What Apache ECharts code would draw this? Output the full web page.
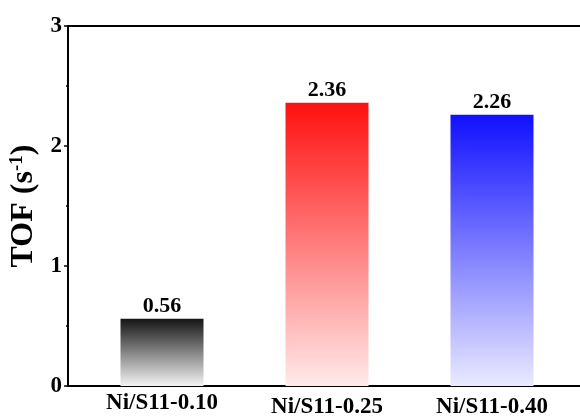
<!DOCTYPE html>
<html>
<head>
<meta charset="utf-8">
<script src="https://cdn.jsdelivr.net/npm/echarts@6/dist/echarts.min.js"></script>
<style>html,body{margin:0;padding:0;background:#fff;}#c{width:580px;height:419px;}</style>
</head>
<body>
<div id="c"></div>
<script>
var categories = ['Ni/S11-0.10', 'Ni/S11-0.25', 'Ni/S11-0.40'];
var tofValues = [0.56, 2.36, 2.26];
var topColors = ['#151515', '#ff1010', '#1010ff'];
var bottomColors = ['#f4f4f4', '#ffeaea', '#eaeaff'];
var yTicks = [0, 1, 2, 3];

var FONT = '"Liberation Serif", "Times New Roman", serif';
var chart = echarts.init(document.getElementById('c'));

var barData = tofValues.map(function (v, i) {
  return {
    value: v,
    itemStyle: {
      color: new echarts.graphic.LinearGradient(0, 0, 0, 1, [
        { offset: 0, color: topColors[i] },
        { offset: 1, color: bottomColors[i] }
      ])
    }
  };
});

chart.setOption({
  backgroundColor: '#fff',
  animation: false,
  grid: [
    { left: 79.5, right: 5.5, top: 26, bottom: 33, outerBoundsMode: 'none', containLabel: false },
    { left: 68, right: -6, top: 26, bottom: 33, outerBoundsMode: 'none', containLabel: false }
  ],
  xAxis: [
    {
      type: 'category', gridIndex: 0, data: categories,
      axisLine: { show: false }, axisTick: { show: false },
      axisLabel: {
        margin: 6,
        formatter: function (v, i) { return i === 0 ? '{a|' + v + '}' : '{b|' + v + '}'; },
        rich: {
          a: { fontFamily: FONT, fontWeight: 'bold', fontSize: 23, color: '#000', padding: [0, 0, 0, 0] },
          b: { fontFamily: FONT, fontWeight: 'bold', fontSize: 23, color: '#000', padding: [4, 0, 0, 0] }
        }
      },
      splitLine: { show: false }
    },
    {
      type: 'value', gridIndex: 1, min: 0, max: 1,
      axisLine: { show: true, onZero: false, lineStyle: { color: '#000', width: 2 } },
      axisTick: { show: false }, axisLabel: { show: false }, splitLine: { show: false }
    },
    {
      type: 'value', gridIndex: 1, position: 'top', min: 0, max: 1,
      axisLine: { show: true, onZero: false, lineStyle: { color: '#000', width: 2 } },
      axisTick: { show: false }, axisLabel: { show: false }, splitLine: { show: false }
    }
  ],
  yAxis: [
    {
      type: 'value', gridIndex: 0, min: 0, max: 3, interval: 1,
      axisLine: { show: false }, axisTick: { show: false }, axisLabel: { show: false }, splitLine: { show: false }
    },
    {
      type: 'value', gridIndex: 1, min: yTicks[0], max: yTicks[yTicks.length - 1], interval: 1,
      name: 'TOF (s{sup|-1})',
      nameLocation: 'middle', nameGap: 25, nameRotate: 90,
      nameTextStyle: {
        fontFamily: FONT, fontWeight: 'bold', fontSize: 32, color: '#000',
        rich: { sup: { fontFamily: FONT, fontWeight: 'bold', fontSize: 19, color: '#000', verticalAlign: 'top', padding: [0, 0, 14, 0] } }
      },
      axisLine: { show: true, onZero: false, lineStyle: { color: '#000', width: 2 } },
      axisTick: { show: true, inside: false, length: 4, lineStyle: { color: '#000', width: 1.5 } },
      minorTick: { show: true, splitNumber: 2, length: 2, lineStyle: { color: '#000', width: 1.5 } },
      axisLabel: { margin: 6, fontFamily: FONT, fontWeight: 'bold', fontSize: 23, color: '#000' },
      splitLine: { show: false }
    }
  ],
  series: [{
    type: 'bar', xAxisIndex: 0, yAxisIndex: 0,
    data: barData, barWidth: 83,
    label: {
      show: true, position: 'top', distance: 1,
      fontFamily: FONT, fontWeight: 'bold', fontSize: 22, color: '#000',
      formatter: function (p) { return p.value.toFixed(2); }
    }
  }]
});
</script>
</body>
</html>
